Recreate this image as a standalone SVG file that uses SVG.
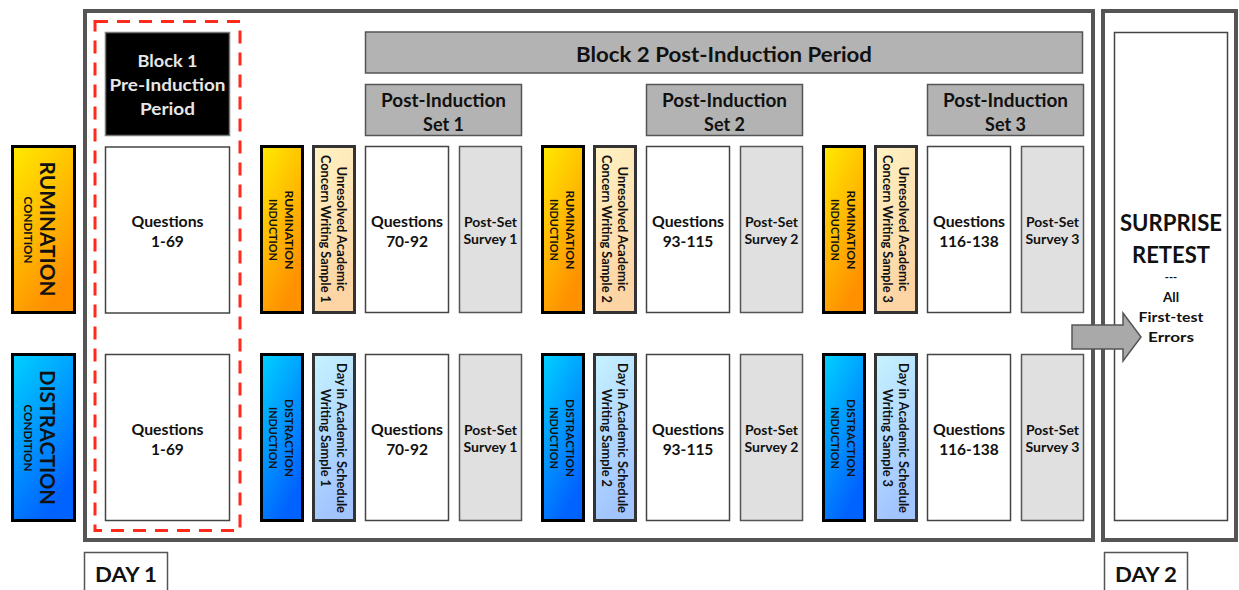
<svg xmlns="http://www.w3.org/2000/svg" width="1239" height="590" viewBox="0 0 1239 590">
<style>
text{font-family:Lato,"Liberation Sans",sans-serif;font-weight:bold;fill:#111;text-anchor:middle}
.frame{fill:none;stroke:#555;stroke-width:4}
.q{fill:#fff;stroke:#444;stroke-width:1.5}
.sv{fill:#e0e0e0;stroke:#555;stroke-width:1.5}
.hdr{fill:#b3b3b3;stroke:#555;stroke-width:1.5}
.indR{fill:url(#gRum);stroke:#000;stroke-width:3}
.indD{fill:url(#gDis);stroke:#000;stroke-width:3}
.wR{fill:url(#gRumW);stroke:#333;stroke-width:3}
.wD{fill:url(#gDisW);stroke:#333;stroke-width:3}
.big{font-size:21px}
.sm{font-size:12px}
.w{font-size:12.5px}
.qt{font-size:15.5px}
.ps{font-size:13.5px}
.h2{font-size:18px}
.day{font-size:21px}
</style>
<defs>
<linearGradient id="gRum" x1="0" y1="0" x2="0.5" y2="1"><stop offset="0" stop-color="#FFEA00"/><stop offset="1" stop-color="#FF9000"/></linearGradient>
<linearGradient id="gDis" x1="0" y1="0" x2="0.5" y2="1"><stop offset="0" stop-color="#00D2FF"/><stop offset="1" stop-color="#0062FF"/></linearGradient>
<linearGradient id="gRumW" x1="0" y1="0" x2="0.3" y2="1"><stop offset="0" stop-color="#FFF3C4"/><stop offset="1" stop-color="#FDD4A4"/></linearGradient>
<linearGradient id="gDisW" x1="0" y1="0" x2="0.3" y2="1"><stop offset="0" stop-color="#C6F3FF"/><stop offset="1" stop-color="#A2C4FF"/></linearGradient>
</defs>

<g id="day1-frame"><rect class="frame" x="85" y="11" width="1008" height="529"/></g>
<g id="day2-frame"><rect class="frame" x="1103" y="11" width="133" height="529"/></g>
<g id="block1-dashed"><rect x="95" y="21.5" width="145" height="509" fill="none" stroke="#FF2A1A" stroke-width="3" stroke-dasharray="13 9"/></g>

<g id="cond-rumination">
<rect class="indR" x="12.5" y="146.5" width="62" height="166"/>
<text class="big" transform="translate(40,229) rotate(90)" textLength="135" lengthAdjust="spacingAndGlyphs">RUMINATION</text>
<text class="sm" transform="translate(23.5,230) rotate(90)" textLength="67" lengthAdjust="spacingAndGlyphs">CONDITION</text>
</g>
<g id="cond-distraction">
<rect class="indD" x="12.5" y="354.5" width="62" height="166"/>
<text class="big" transform="translate(40,437.5) rotate(90)" textLength="135" lengthAdjust="spacingAndGlyphs">DISTRACTION</text>
<text class="sm" transform="translate(23.5,438) rotate(90)" textLength="67" lengthAdjust="spacingAndGlyphs">CONDITION</text>
</g>

<g id="block1-header">
<rect x="105.5" y="32.5" width="124" height="103" fill="#000" stroke="#777" stroke-width="1.5"/>
<text x="167.5" y="67" font-size="17.5" style="fill:#e6e6e6" textLength="60" lengthAdjust="spacingAndGlyphs">Block 1</text>
<text x="167.5" y="91" font-size="17.5" style="fill:#e6e6e6" textLength="116" lengthAdjust="spacingAndGlyphs">Pre-Induction</text>
<text x="167.5" y="115" font-size="17.5" style="fill:#e6e6e6" textLength="55" lengthAdjust="spacingAndGlyphs">Period</text>
</g>
<g id="q1-69-rum">
<rect class="q" x="105.5" y="147" width="124" height="166"/>
<text class="qt" x="167.5" y="227" textLength="72" lengthAdjust="spacingAndGlyphs">Questions</text>
<text class="qt" x="167.5" y="247">1-69</text>
</g>
<g id="q1-69-dis">
<rect class="q" x="105.5" y="354.5" width="124" height="166"/>
<text class="qt" x="167.5" y="435" textLength="72" lengthAdjust="spacingAndGlyphs">Questions</text>
<text class="qt" x="167.5" y="455">1-69</text>
</g>

<g id="block2-header">
<rect class="hdr" x="365.5" y="32" width="717" height="41"/>
<text x="724" y="62" font-size="20" textLength="296" lengthAdjust="spacingAndGlyphs">Block 2 Post-Induction Period</text>
</g>

<!-- Set 1 -->
<g id="set1-header">
<rect class="hdr" x="365.5" y="84.5" width="156" height="51"/>
<text class="h2" x="443.5" y="107" textLength="125" lengthAdjust="spacingAndGlyphs">Post-Induction</text>
<text class="h2" x="443.5" y="131">Set 1</text>
</g>
<g id="set1-rum-induction">
<rect class="indR" x="261.5" y="146.5" width="41" height="166"/>
<text class="sm" transform="translate(285,230) rotate(90)" textLength="79" lengthAdjust="spacingAndGlyphs">RUMINATION</text>
<text class="sm" transform="translate(269,230) rotate(90)" textLength="62" lengthAdjust="spacingAndGlyphs">INDUCTION</text>
</g>
<g id="set1-rum-writing">
<rect class="wR" x="313.5" y="146.5" width="41" height="166"/>
<text class="w" transform="translate(337,229) rotate(90)" textLength="125" lengthAdjust="spacingAndGlyphs">Unresolved Academic</text>
<text class="w" transform="translate(321,229) rotate(90)" textLength="148" lengthAdjust="spacingAndGlyphs">Concern Writing Sample 1</text>
</g>
<g id="set1-rum-questions">
<rect class="q" x="365.5" y="146.5" width="83" height="166"/>
<text class="qt" x="407" y="227" textLength="72" lengthAdjust="spacingAndGlyphs">Questions</text>
<text class="qt" x="407" y="247">70-92</text>
</g>
<g id="set1-rum-survey">
<rect class="sv" x="459.5" y="146.5" width="62" height="166"/>
<text class="ps" x="490.5" y="227" textLength="53" lengthAdjust="spacingAndGlyphs">Post-Set</text>
<text class="ps" x="490.5" y="244" textLength="54" lengthAdjust="spacingAndGlyphs">Survey 1</text>
</g>
<g id="set1-dis-induction">
<rect class="indD" x="261.5" y="354.5" width="41" height="166"/>
<text class="sm" transform="translate(285,438) rotate(90)" textLength="78" lengthAdjust="spacingAndGlyphs">DISTRACTION</text>
<text class="sm" transform="translate(269,438) rotate(90)" textLength="62" lengthAdjust="spacingAndGlyphs">INDUCTION</text>
</g>
<g id="set1-dis-writing">
<rect class="wD" x="313.5" y="354.5" width="41" height="166"/>
<text class="w" transform="translate(337,438) rotate(90)" textLength="150" lengthAdjust="spacingAndGlyphs">Day in Academic Schedule</text>
<text class="w" transform="translate(321,438) rotate(90)" textLength="98" lengthAdjust="spacingAndGlyphs">Writing Sample 1</text>
</g>
<g id="set1-dis-questions">
<rect class="q" x="365.5" y="354.5" width="83" height="166"/>
<text class="qt" x="407" y="435" textLength="72" lengthAdjust="spacingAndGlyphs">Questions</text>
<text class="qt" x="407" y="455">70-92</text>
</g>
<g id="set1-dis-survey">
<rect class="sv" x="459.5" y="354.5" width="62" height="166"/>
<text class="ps" x="490.5" y="435" textLength="53" lengthAdjust="spacingAndGlyphs">Post-Set</text>
<text class="ps" x="490.5" y="452" textLength="54" lengthAdjust="spacingAndGlyphs">Survey 1</text>
</g>

<!-- Set 2 -->
<g id="set2-header">
<rect class="hdr" x="646.5" y="84.5" width="156" height="51"/>
<text class="h2" x="724.5" y="107" textLength="125" lengthAdjust="spacingAndGlyphs">Post-Induction</text>
<text class="h2" x="724.5" y="131">Set 2</text>
</g>
<g id="set2-rum-induction">
<rect class="indR" x="542.5" y="146.5" width="41" height="166"/>
<text class="sm" transform="translate(566,230) rotate(90)" textLength="79" lengthAdjust="spacingAndGlyphs">RUMINATION</text>
<text class="sm" transform="translate(550,230) rotate(90)" textLength="62" lengthAdjust="spacingAndGlyphs">INDUCTION</text>
</g>
<g id="set2-rum-writing">
<rect class="wR" x="594.5" y="146.5" width="41" height="166"/>
<text class="w" transform="translate(618,229) rotate(90)" textLength="125" lengthAdjust="spacingAndGlyphs">Unresolved Academic</text>
<text class="w" transform="translate(602,229) rotate(90)" textLength="148" lengthAdjust="spacingAndGlyphs">Concern Writing Sample 2</text>
</g>
<g id="set2-rum-questions">
<rect class="q" x="646.5" y="146.5" width="83" height="166"/>
<text class="qt" x="688" y="227" textLength="72" lengthAdjust="spacingAndGlyphs">Questions</text>
<text class="qt" x="688" y="247">93-115</text>
</g>
<g id="set2-rum-survey">
<rect class="sv" x="740.5" y="146.5" width="62" height="166"/>
<text class="ps" x="771.5" y="227" textLength="53" lengthAdjust="spacingAndGlyphs">Post-Set</text>
<text class="ps" x="771.5" y="244" textLength="54" lengthAdjust="spacingAndGlyphs">Survey 2</text>
</g>
<g id="set2-dis-induction">
<rect class="indD" x="542.5" y="354.5" width="41" height="166"/>
<text class="sm" transform="translate(566,438) rotate(90)" textLength="78" lengthAdjust="spacingAndGlyphs">DISTRACTION</text>
<text class="sm" transform="translate(550,438) rotate(90)" textLength="62" lengthAdjust="spacingAndGlyphs">INDUCTION</text>
</g>
<g id="set2-dis-writing">
<rect class="wD" x="594.5" y="354.5" width="41" height="166"/>
<text class="w" transform="translate(618,438) rotate(90)" textLength="150" lengthAdjust="spacingAndGlyphs">Day in Academic Schedule</text>
<text class="w" transform="translate(602,438) rotate(90)" textLength="98" lengthAdjust="spacingAndGlyphs">Writing Sample 2</text>
</g>
<g id="set2-dis-questions">
<rect class="q" x="646.5" y="354.5" width="83" height="166"/>
<text class="qt" x="688" y="435" textLength="72" lengthAdjust="spacingAndGlyphs">Questions</text>
<text class="qt" x="688" y="455">93-115</text>
</g>
<g id="set2-dis-survey">
<rect class="sv" x="740.5" y="354.5" width="62" height="166"/>
<text class="ps" x="771.5" y="435" textLength="53" lengthAdjust="spacingAndGlyphs">Post-Set</text>
<text class="ps" x="771.5" y="452" textLength="54" lengthAdjust="spacingAndGlyphs">Survey 2</text>
</g>

<!-- Set 3 -->
<g id="set3-header">
<rect class="hdr" x="927.5" y="84.5" width="156" height="51"/>
<text class="h2" x="1005.5" y="107" textLength="125" lengthAdjust="spacingAndGlyphs">Post-Induction</text>
<text class="h2" x="1005.5" y="131">Set 3</text>
</g>
<g id="set3-rum-induction">
<rect class="indR" x="823.5" y="146.5" width="41" height="166"/>
<text class="sm" transform="translate(847,230) rotate(90)" textLength="79" lengthAdjust="spacingAndGlyphs">RUMINATION</text>
<text class="sm" transform="translate(831,230) rotate(90)" textLength="62" lengthAdjust="spacingAndGlyphs">INDUCTION</text>
</g>
<g id="set3-rum-writing">
<rect class="wR" x="875.5" y="146.5" width="41" height="166"/>
<text class="w" transform="translate(899,229) rotate(90)" textLength="125" lengthAdjust="spacingAndGlyphs">Unresolved Academic</text>
<text class="w" transform="translate(883,229) rotate(90)" textLength="148" lengthAdjust="spacingAndGlyphs">Concern Writing Sample 3</text>
</g>
<g id="set3-rum-questions">
<rect class="q" x="927.5" y="146.5" width="83" height="166"/>
<text class="qt" x="969" y="227" textLength="72" lengthAdjust="spacingAndGlyphs">Questions</text>
<text class="qt" x="969" y="247">116-138</text>
</g>
<g id="set3-rum-survey">
<rect class="sv" x="1021.5" y="146.5" width="62" height="166"/>
<text class="ps" x="1052.5" y="227" textLength="53" lengthAdjust="spacingAndGlyphs">Post-Set</text>
<text class="ps" x="1052.5" y="244" textLength="54" lengthAdjust="spacingAndGlyphs">Survey 3</text>
</g>
<g id="set3-dis-induction">
<rect class="indD" x="823.5" y="354.5" width="41" height="166"/>
<text class="sm" transform="translate(847,438) rotate(90)" textLength="78" lengthAdjust="spacingAndGlyphs">DISTRACTION</text>
<text class="sm" transform="translate(831,438) rotate(90)" textLength="62" lengthAdjust="spacingAndGlyphs">INDUCTION</text>
</g>
<g id="set3-dis-writing">
<rect class="wD" x="875.5" y="354.5" width="41" height="166"/>
<text class="w" transform="translate(899,438) rotate(90)" textLength="150" lengthAdjust="spacingAndGlyphs">Day in Academic Schedule</text>
<text class="w" transform="translate(883,438) rotate(90)" textLength="98" lengthAdjust="spacingAndGlyphs">Writing Sample 3</text>
</g>
<g id="set3-dis-questions">
<rect class="q" x="927.5" y="354.5" width="83" height="166"/>
<text class="qt" x="969" y="435" textLength="72" lengthAdjust="spacingAndGlyphs">Questions</text>
<text class="qt" x="969" y="455">116-138</text>
</g>
<g id="set3-dis-survey">
<rect class="sv" x="1021.5" y="354.5" width="62" height="166"/>
<text class="ps" x="1052.5" y="435" textLength="53" lengthAdjust="spacingAndGlyphs">Post-Set</text>
<text class="ps" x="1052.5" y="452" textLength="54" lengthAdjust="spacingAndGlyphs">Survey 3</text>
</g>

<g id="retest">
<rect x="1114.5" y="32.5" width="113" height="488" fill="#fff" stroke="#444" stroke-width="1.5"/>
<text x="1171" y="231" font-size="23" textLength="102" lengthAdjust="spacingAndGlyphs">SURPRISE</text>
<text x="1171" y="263" font-size="23" textLength="78" lengthAdjust="spacingAndGlyphs">RETEST</text>
<text x="1171" y="281" font-size="11">---</text>
<text x="1171" y="302" font-size="13.5">All</text>
<text x="1171" y="322" font-size="13.5" textLength="65" lengthAdjust="spacingAndGlyphs">First-test</text>
<text x="1171" y="342" font-size="13.5" textLength="46" lengthAdjust="spacingAndGlyphs">Errors</text>
</g>

<g id="connectors">
<path d="M1072,325 H1123 V313 L1141,337 L1123,361 V349 H1072 Z" fill="#a9a9a9" stroke="#555" stroke-width="1.5"/>
</g>

<g id="day1-label">
<rect x="84.5" y="552.5" width="83" height="50" fill="#fff" stroke="#555" stroke-width="1.5"/>
<text class="day" x="126" y="582" textLength="62" lengthAdjust="spacingAndGlyphs">DAY 1</text>
</g>
<g id="day2-label">
<rect x="1104.5" y="552.5" width="83" height="50" fill="#fff" stroke="#555" stroke-width="1.5"/>
<text class="day" x="1146" y="582" textLength="62" lengthAdjust="spacingAndGlyphs">DAY 2</text>
</g>
</svg>
